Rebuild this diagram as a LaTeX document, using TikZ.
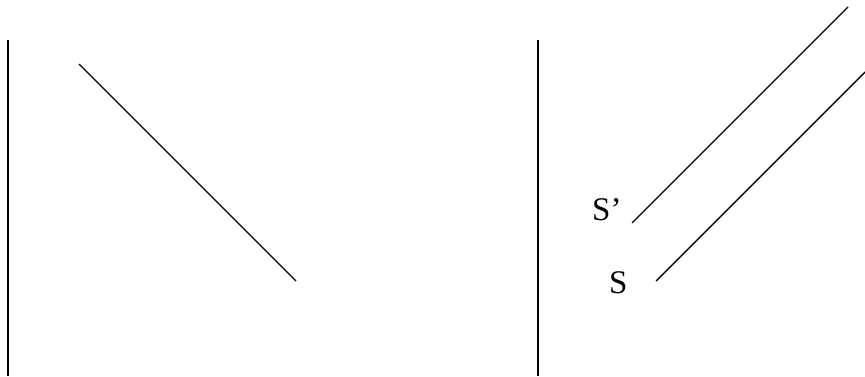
\documentclass[tikz,border=0pt]{standalone}
\usepackage{fontspec}
\setmainfont{Liberation Serif}
\usetikzlibrary{positioning}
\tikzset{%
  % line and label styles
  curve/.style = {draw=black, line width=1.4pt},
  axis/.style  = {draw=black, line width=1.4pt},
  lbl/.style   = {inner sep=0pt, anchor=base west,
                  font=\fontsize{33}{38}\selectfont},
}
\begin{document}
\begin{tikzpicture}[x=1pt, y=1pt]
  \useasboundingbox (0,0) rectangle (865,376);
  % left panel
  \coordinate (axL top) at (8,336);
  \coordinate (axL bot) at (8,0);
  \coordinate (dL start) at (79,312);
  \coordinate (dL end)   at (296,95);
  % right panel
  \coordinate (axR top) at (538,336);
  \coordinate (axR bot) at (538,0);
  \coordinate (sp start) at (632,153);
  \coordinate (sp end)   at (848,369);
  \coordinate (s start)  at (656,95);
  \coordinate (s end)    at (865,304);
  % labels
  \node (sp) [lbl] at (592,156) {S'};
  \node (s)  [lbl] at (609,83)  {S};
  % lines
  \draw[axis]  (axL top) -- (axL bot);
  \draw[curve] (dL start) -- (dL end);
  \draw[axis]  (axR top) -- (axR bot);
  \draw[curve] (sp start) -- (sp end);
  \draw[curve] (s start) -- (s end);
\end{tikzpicture}
\end{document}
